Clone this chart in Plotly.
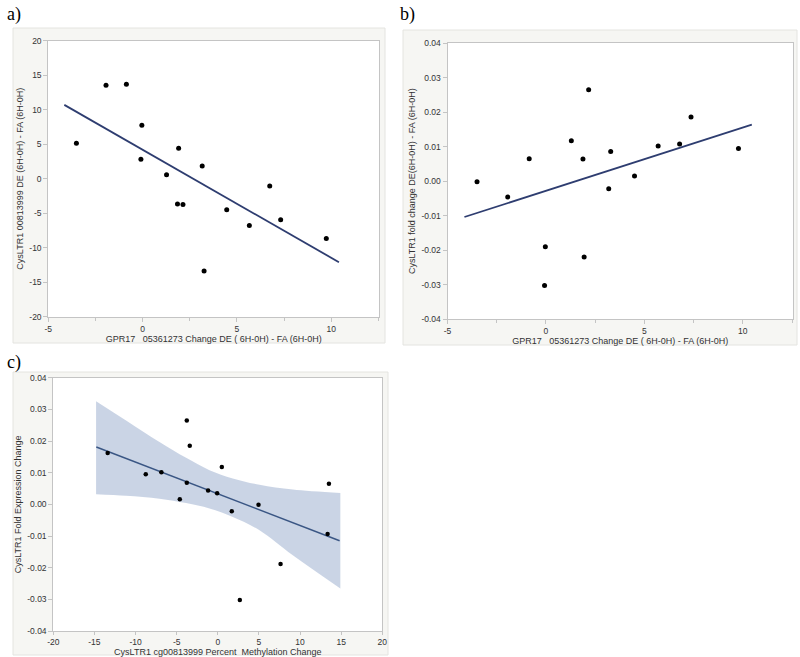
import plotly.graph_objects as go

W, H = 800, 657

# ---------------- data ----------------
# Panel a
a_x = [-3.51, -1.94, -0.86, -0.04, -0.09, 1.27, 1.91, 1.85, 2.14, 3.16, 3.26, 4.46, 5.66, 6.74, 7.32, 9.74]
a_y = [5.13, 13.56, 13.70, 7.75, 2.81, 0.58, 4.41, -3.68, -3.73, 1.84, -13.37, -4.50, -6.78, -1.07, -5.96, -8.67]
a_fit_x = [-4.15, 10.41]
a_fit_y = [10.7, -12.1]

# Panel b
b_x = [-3.50, -1.94, -0.85, -0.03, -0.07, 1.29, 1.88, 1.94, 2.17, 3.19, 3.29, 4.50, 5.70, 6.79, 7.37, 9.78]
b_y = [-0.0002, -0.0046, 0.0065, -0.0190, -0.0303, 0.0117, 0.0064, -0.0220, 0.0265, -0.0022, 0.0086, 0.0015, 0.0102, 0.0108, 0.0186, 0.0095]
b_fit_x = [-4.14, 10.46]
b_fit_y = [-0.0104, 0.0164]

# Panel c
c_x = [-13.39, -8.76, -6.86, -3.77, -3.41, -3.77, -4.62, -1.18, -0.08, 0.49, 1.70, 2.68, 4.95, 7.63, 13.51, 13.35]
c_y = [0.0162, 0.0095, 0.0101, 0.0265, 0.0185, 0.0068, 0.0016, 0.0044, 0.0035, 0.0118, -0.0022, -0.0302, -0.0001, -0.0188, 0.0065, -0.0094]
c_fit_x = [-14.77, 14.81]
c_fit_y = [0.0181, -0.0115]
c_band_x = [-14.8, -11.15, -7.09, -3.85, -1.01, 1.82, 5.07, 9.12, 14.9]
c_band_upper = [0.0326, 0.0265, 0.0197, 0.0147, 0.0108, 0.0082, 0.0062, 0.0047, 0.0036]
c_band_lower = [0.0032, 0.0027, 0.0018, 0.0004, -0.0013, -0.0040, -0.0082, -0.0161, -0.0266]

# tick labels
ab_xticks = [-5, 0, 5, 10]
ab_xticktext = ["-5", "0", "5", "10"]
a_yticks = [-20, -15, -10, -5, 0, 5, 10, 15, 20]
a_yticktext = ["-20", "-15", "-10", "-5", "0", "5", "10", "15", "20"]
frac_ticks = [-0.04, -0.03, -0.02, -0.01, 0.0, 0.01, 0.02, 0.03, 0.04]
frac_ticktext = ["-0.04", "-0.03", "-0.02", "-0.01", "0.00", "0.01", "0.02", "0.03", "0.04"]
c_xticks = [-20, -15, -10, -5, 0, 5, 10, 15, 20]
c_xticktext = ["-20", "-15", "-10", "-5", "0", "5", "10", "15", "20"]

NB = "\u00a0"
a_xtitle = "GPR17" + NB * 3 + "05361273 Change DE ( 6H-0H) - FA (6H-0H)"
a_ytitle = "CysLTR1 00813999 DE (6H-0H) - FA (6H-0H)"
b_ytitle = "CysLTR1 fold change DE(6H-0H) - FA (6H-0H)"
c_xtitle = "CysLTR1 cg00813999 Percent" + NB * 2 + "Methylation Change"
c_ytitle = "CysLTR1 Fold Expression Change"

# ---------------- layout helpers ----------------
def xd(px0, px1):
    return [px0 / W, px1 / W]

def yd(py0, py1):
    return [1 - py1 / H, 1 - py0 / H]

FONT = "Liberation Sans, Arial, sans-serif"
TICKFONT = dict(family=FONT, size=8.5, color="#333333")
TITLEFONT = dict(family=FONT, size=9, color="#333333")
AXCOL = "#c4c4c4"
DOT = dict(color="black", size=5)
NAVY = "#2e3d70"

fig = go.Figure()

# band first for panel c
fig.add_trace(go.Scatter(x=c_band_x, y=c_band_upper, mode="lines", line=dict(width=0, shape="spline"),
                         xaxis="x3", yaxis="y3", showlegend=False, hoverinfo="skip"))
fig.add_trace(go.Scatter(x=c_band_x, y=c_band_lower, mode="lines", line=dict(width=0, shape="spline"),
                         fill="tonexty", fillcolor="rgba(196,207,226,0.9)",
                         xaxis="x3", yaxis="y3", showlegend=False, hoverinfo="skip"))

fig.add_trace(go.Scatter(x=a_fit_x, y=a_fit_y, mode="lines", line=dict(color=NAVY, width=1.8),
                         xaxis="x", yaxis="y", showlegend=False))
fig.add_trace(go.Scatter(x=a_x, y=a_y, mode="markers", marker=DOT, xaxis="x", yaxis="y", showlegend=False))

fig.add_trace(go.Scatter(x=b_fit_x, y=b_fit_y, mode="lines", line=dict(color=NAVY, width=1.8),
                         xaxis="x2", yaxis="y2", showlegend=False))
fig.add_trace(go.Scatter(x=b_x, y=b_y, mode="markers", marker=DOT, xaxis="x2", yaxis="y2", showlegend=False))

fig.add_trace(go.Scatter(x=c_fit_x, y=c_fit_y, mode="lines", line=dict(color="#3a5684", width=1.5),
                         xaxis="x3", yaxis="y3", showlegend=False))
fig.add_trace(go.Scatter(x=c_x, y=c_y, mode="markers", marker=dict(color="black", size=4.5),
                         xaxis="x3", yaxis="y3", showlegend=False))

def axis(domain, rng, tickvals, ticktext, title, anchor, minor=None, standoff=4, ticklen=4):
    d = dict(domain=domain, range=rng, tickmode="array", tickvals=tickvals, ticktext=ticktext,
             showgrid=False, zeroline=False, showline=True, linecolor=AXCOL, linewidth=1, mirror=True,
             ticks="outside", ticklen=ticklen, tickcolor=AXCOL, tickfont=TICKFONT,
             title=dict(text=title, font=TITLEFONT, standoff=standoff), anchor=anchor,
             automargin=False, fixedrange=True)
    if minor:
        d["minor"] = minor
    return d

minor_ab = dict(tickvals=[-2.5, 2.5, 7.5, 12.5], ticks="outside", ticklen=3, tickcolor=AXCOL, showgrid=False)

A_PLOT = (48.3, 40.7, 379.3, 316.7)
B_PLOT = (447.5, 43.3, 793.0, 319.0)
C_PLOT = (53.3, 377.7, 382.3, 631.0)

fig.update_layout(
    width=W, height=H, margin=dict(l=0, r=0, t=0, b=0),
    paper_bgcolor="white", plot_bgcolor="white", showlegend=False,
    xaxis=axis(xd(A_PLOT[0], A_PLOT[2]), [-5, 12.55], ab_xticks, ab_xticktext, a_xtitle, "y", minor_ab, 0),
    yaxis=axis(yd(A_PLOT[1], A_PLOT[3]), [-20, 20], a_yticks, a_yticktext, a_ytitle, "x", None, 4),
    xaxis2=axis(xd(B_PLOT[0], B_PLOT[2]), [-5, 12.55], ab_xticks, ab_xticktext, a_xtitle, "y2", minor_ab, 0),
    yaxis2=axis(yd(B_PLOT[1], B_PLOT[3]), [-0.04, 0.04], frac_ticks, frac_ticktext, b_ytitle, "x2", None, 4),
    xaxis3=axis(xd(C_PLOT[0], C_PLOT[2]), [-20, 20], c_xticks, c_xticktext, c_xtitle, "y3", None, 0, 3),
    yaxis3=axis(yd(C_PLOT[1], C_PLOT[3]), [-0.04, 0.04], frac_ticks, frac_ticktext, c_ytitle, "x3", None, 4),
)

def rect(x0, y0, x1, y1, fill, line):
    fig.add_shape(type="rect", xref="paper", yref="paper", layer="below",
                  x0=x0 / W, x1=x1 / W, y0=1 - y1 / H, y1=1 - y0 / H,
                  fillcolor=fill, line=dict(color=line, width=1))

# panel frames, then white plot areas
rect(13, 28, 385, 343, "#f6f6f3", "#e4e4e0")
rect(403, 30, 797, 345, "#f6f6f3", "#e4e4e0")
rect(13, 372, 388, 655, "#f6f6f3", "#e4e4e0")
for p in (A_PLOT, B_PLOT, C_PLOT):
    rect(*p, "white", "white")

for txt, px, py in [("a)", 5, 14), ("b)", 398, 14), ("c)", 5, 362)]:
    fig.add_annotation(text=txt, xref="paper", yref="paper", x=px / W, y=1 - py / H,
                       xanchor="left", yanchor="middle", showarrow=False,
                       font=dict(family="Liberation Serif, Times New Roman, serif", size=18, color="black"))

fig.write_html("out.html", config={"displayModeBar": False},
               post_script="document.body.style.margin='0';document.body.style.overflow='hidden';")
